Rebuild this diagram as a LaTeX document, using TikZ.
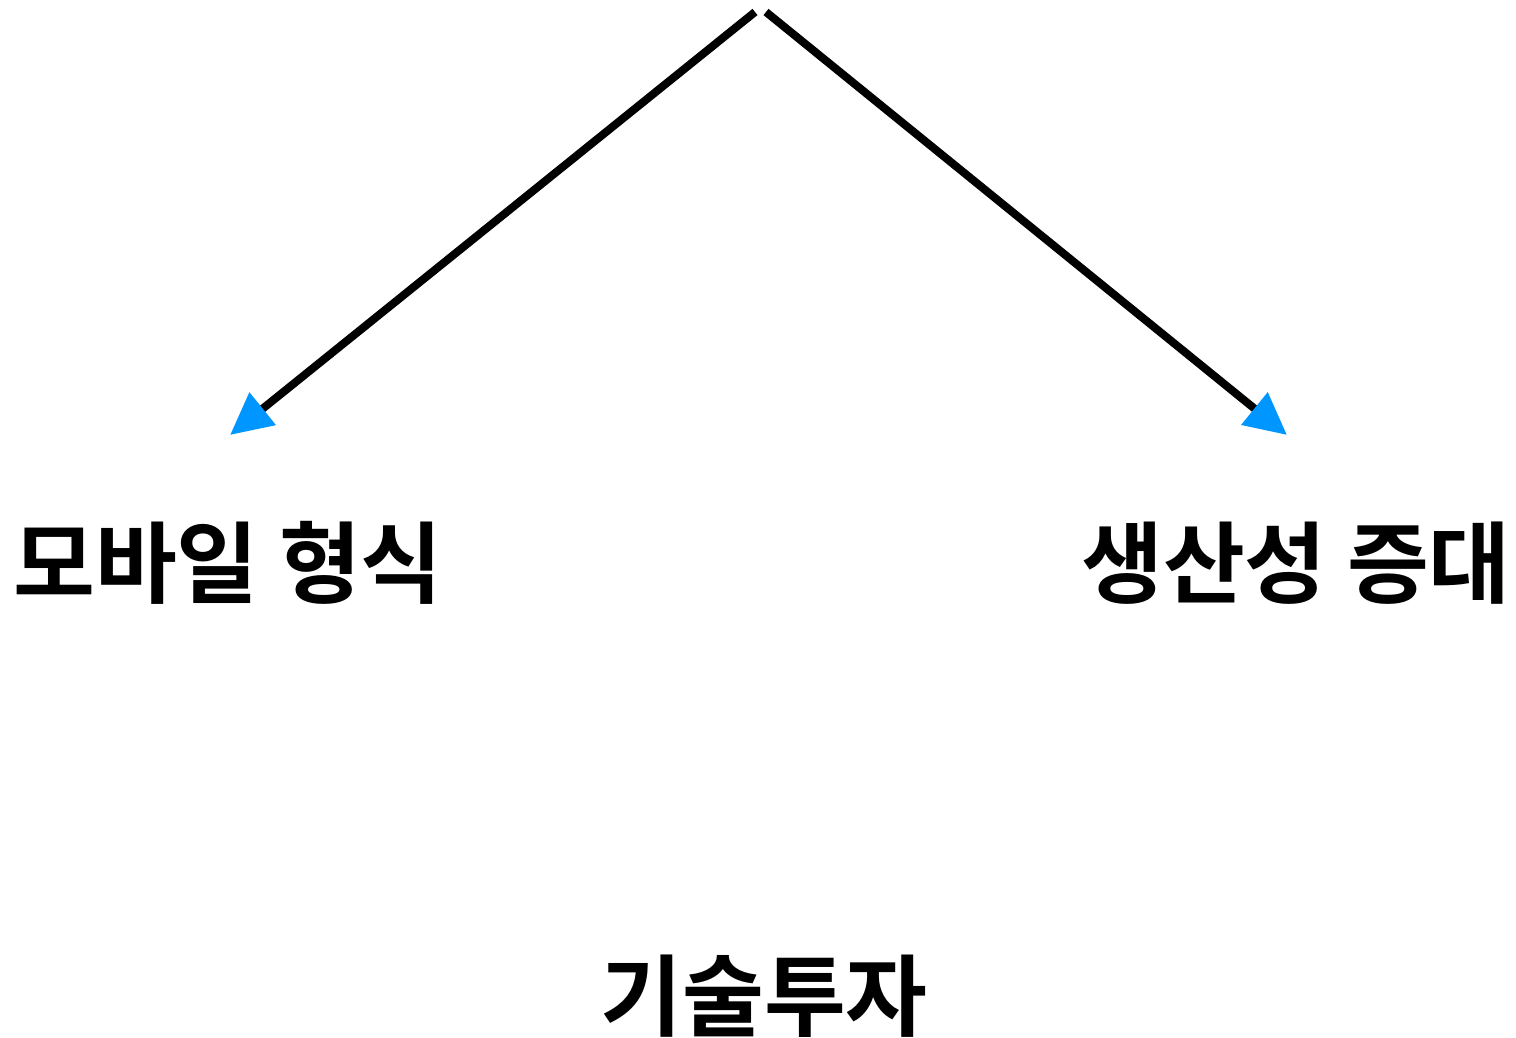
\documentclass[tikz,border=0pt]{standalone}
\usepackage{fontspec}
\newfontfamily\kr{Noto Sans CJK KR Bold}
\usetikzlibrary{arrows.meta}
\definecolor{tipblue}{RGB}{0,150,255}
\tikzset{
  conn/.style={line width=8pt, draw=black, -{Triangle[length=42pt,width=40pt,color=tipblue]}},
  lbl/.style={font=\kr\fontsize{89pt}{92pt}\selectfont, inner sep=0pt, anchor=center}
}
\begin{document}
\begin{tikzpicture}[x=1pt,y=-1pt]
\useasboundingbox (0,0) rectangle (1516,1038);
\coordinate (s1) at (755,12);
\coordinate (s2) at (766,12);
\coordinate (t1) at (230,435);
\coordinate (t2) at (1287,435);
\draw[conn] (s1) -- (t1);
\draw[conn] (s2) -- (t2);
\node[lbl] (mob) at (228,563) {모바일 형식};
\node[lbl] (prod) at (1296,563) {생산성 증대};
\node[lbl] (tech) at (764,996) {기술투자};
\end{tikzpicture}
\end{document}
